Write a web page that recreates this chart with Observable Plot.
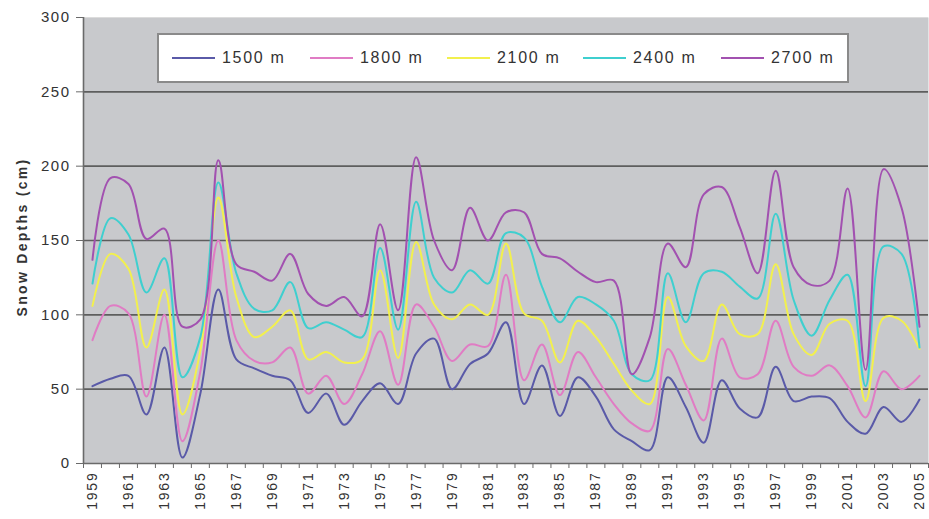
<!DOCTYPE html>
<html>
<head>
<meta charset="utf-8">
<script src="https://cdn.jsdelivr.net/npm/d3@7"></script>
<script src="https://cdn.jsdelivr.net/npm/@observablehq/plot@0.6"></script>
<style>
  html, body { margin: 0; padding: 0; background: #ffffff; }
  #wrap { position: relative; width: 929px; height: 519px; font-family: "Liberation Sans", Arial, sans-serif; }
  #legend { position: absolute; left: 157px; top: 33px; width: 688px; height: 46px; background: #ffffff;
            border: 2px solid #8a8a8a; box-sizing: content-box; }
  .item { position: absolute; top: 0; height: 46px; display: flex; align-items: center; }
  .swatch { display: inline-block; width: 43px; height: 2px; margin-right: 7px; }
  .lab { font-size: 16px; color: #333; letter-spacing: 1.7px; }
  #ytitle { position: absolute; left: 22px; top: 237px; transform: translate(-50%, -50%) rotate(-90deg);
            font-size: 14px; font-weight: bold; color: #333; white-space: nowrap; letter-spacing: 2.3px; }
  svg text { fill: #333; }
  g[aria-label="y-axis tick label"] text { letter-spacing: 1.5px; }
  g[aria-label="x-axis tick label"] text { letter-spacing: 1.8px; }
</style>
</head>
<body>
<div id="wrap"></div>
<script>
const years = d3.range(1959, 2006);
const seriesNames = ["1500 m", "1800 m", "2100 m", "2400 m", "2700 m"];
const seriesColors = ["#5a5aa8", "#e07cc4", "#f2f04e", "#3fcfcf", "#a251b0"];

const d1500 = [52,57,59,33,78,4,47,117,70,64,59,56,
               34,47,26,42,54,40,74,84,50,67,74,95,
               40,66,32,58,45,23,15,9,58,38,14,56,
               37,31,65,42,45,44,28,20,38,28,43];
const d1800 = [83,106,101,45,100,15,62,150,83,69,68,78,
               47,59,40,60,89,53,107,92,69,80,79,127,
               56,80,46,75,58,40,27,22,77,53,29,84,
               58,60,96,65,59,66,52,31,62,50,59];
const d2100 = [106,141,131,78,117,33,76,179,112,85,92,103,
               70,75,68,70,130,71,149,107,97,107,100,148,
               101,96,68,96,85,67,49,40,112,79,69,107,
               87,87,134,87,73,94,96,42,98,96,77];
const d2400 = [121,165,154,115,138,58,85,189,128,104,103,122,
               91,95,90,85,145,90,176,125,115,130,121,155,
               152,119,95,112,107,96,60,56,128,95,128,129,
               119,111,168,110,86,110,127,52,146,141,78];
const d2700 = [137,192,188,151,158,92,97,204,134,129,123,141,
               114,106,112,99,161,103,206,150,130,172,150,169,
               169,141,138,129,122,123,60,85,148,132,181,186,
               159,128,197,132,120,123,185,63,198,172,92];

const yTicks = [0, 50, 100, 150, 200, 250, 300];
const xLabelYears = years.filter(y => (y - 1959) % 2 === 0);
const boundaries = d3.range(1958.5, 2006, 1);

const allSeries = [d1500, d1800, d2100, d2400, d2700];
const rows = [];
allSeries.forEach((arr, s) => arr.forEach((v, i) => rows.push({year: years[i], value: v, series: seriesNames[s]})));

const chart = Plot.plot({
  width: 929,
  height: 519,
  marginLeft: 83,
  marginRight: 1,
  marginTop: 17,
  marginBottom: 56,
  style: {fontFamily: "'Liberation Sans', Arial, sans-serif", background: "transparent", overflow: "visible"},
  x: {type: "linear", domain: [1958.5, 2005.5]},
  y: {domain: [0, 300]},
  color: {domain: seriesNames, range: seriesColors},
  marks: [
    Plot.frame({fill: "#c8c9cc", stroke: null}),
    Plot.gridY(yTicks.filter(t => t > 0 && t < 300), {stroke: "#5e5e5e", strokeOpacity: 1, strokeWidth: 1.6}),
    Plot.ruleY([300], {stroke: "#dcdcdc", strokeWidth: 1}),
    Plot.line(rows, {x: "year", y: "value", z: "series", stroke: "series", strokeWidth: 2, curve: "catmull-rom"}),
    Plot.ruleX([1958.5], {stroke: "#6a6a6a", strokeWidth: 1.6}),
    Plot.ruleY([0], {stroke: "#6a6a6a", strokeWidth: 1.6}),
    Plot.axisY({ticks: yTicks, tickSize: 7, tickPadding: 6, fontSize: 15, label: null, stroke: "#6a6a6a"}),
    Plot.axisX({ticks: boundaries, tickSize: 5, tickFormat: () => "", label: null, stroke: "#6a6a6a"}),
    Plot.axisX({ticks: xLabelYears, tickSize: 0, tickPadding: 8, tickRotate: -90, fontSize: 14, tickFormat: d => String(d), label: null})
  ]
});

const wrap = document.getElementById("wrap");
wrap.appendChild(chart);

const yt = document.createElement("div");
yt.id = "ytitle";
yt.textContent = "Snow Depths (cm)";
wrap.appendChild(yt);

const legend = document.createElement("div");
legend.id = "legend";
const itemLefts = [13, 151, 288, 424, 562];
seriesNames.forEach((name, i) => {
  const it = document.createElement("div");
  it.className = "item";
  it.style.left = itemLefts[i] + "px";
  const sw = document.createElement("span");
  sw.className = "swatch";
  sw.style.background = seriesColors[i];
  const lb = document.createElement("span");
  lb.className = "lab";
  lb.textContent = name;
  it.appendChild(sw);
  it.appendChild(lb);
  legend.appendChild(it);
});
wrap.appendChild(legend);
</script>
</body>
</html>
